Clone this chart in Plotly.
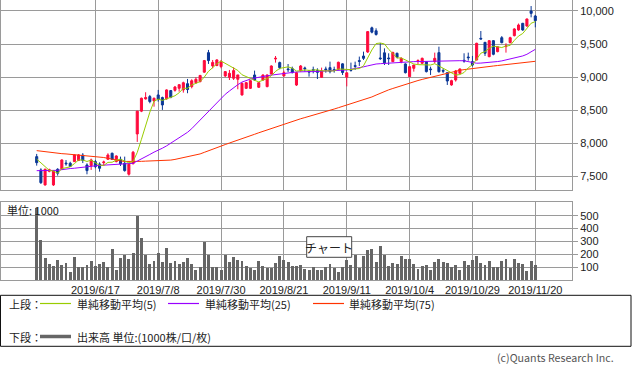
import pandas as pd
import plotly.graph_objects as go

# ---------------- data ----------------
HOLIDAYS = ["2019-07-15", "2019-08-12", "2019-09-16", "2019-09-23",
            "2019-10-14", "2019-10-22", "2019-11-04"]
DATES = [d.strftime("%Y-%m-%d") for d in pd.bdate_range("2019-05-28", "2019-11-20")
         if d.strftime("%Y-%m-%d") not in HOLIDAYS]

TICK_DATES = ["2019-06-17", "2019-07-08", "2019-07-30", "2019-08-21",
              "2019-09-11", "2019-10-04", "2019-10-29", "2019-11-20"]
TICK_TEXT = ["2019/6/17", "2019/7/8", "2019/7/30", "2019/8/21",
             "2019/9/11", "2019/10/4", "2019/10/29", "2019/11/20"]

OPEN = [7797, 7596, 7369, 7575, 7369, 7606, 7611, 7700, 7697, 7722,
        7740, 7820, 7671, 7661, 7722, 7686, 7706, 7757, 7848, 7722,
        7757, 7696, 7531, 7690, 8140, 8485, 8670, 8705, 8640, 8730,
        8690, 8670, 8796, 8800, 8831, 8806, 8900, 8856, 8917, 8932,
        9075, 9370, 9169, 9175, 9159, 9018, 8997, 8982, 8967, 8730,
        8830, 8830, 9032, 8846, 8956, 8856, 9047, 9274, 9219, 9017,
        9123, 9128, 8880, 9098, 9138, 9088, 9113, 9098, 8997, 9123,
        9143, 9113, 9118, 9200, 9000, 9113, 9173, 9249, 9319, 9380,
        9745, 9700, 9289, 9367, 9289, 9234, 9360, 9234, 9199, 9007,
        9133, 9240, 9209, 9234, 9123, 9234, 9370, 9100, 9067, 8881,
        8956, 9057, 9254, 9304, 9234, 9259, 9586, 9526, 9309, 9551,
        9385, 9596, 9461, 9521, 9627, 9713, 9813, 9773, 9999, 9924]
HIGH = [7838, 7621, 7616, 7615, 7590, 7622, 7757, 7745, 7720, 7830,
        7835, 7850, 7696, 7767, 7747, 7711, 7737, 7848, 7858, 7817,
        7797, 7797, 7690, 7883, 8490, 8690, 8771, 8730, 8690, 8806,
        8704, 8815, 8805, 8866, 8892, 8931, 8972, 8967, 8997, 9033,
        9259, 9411, 9259, 9270, 9259, 9090, 9108, 9148, 9033, 8916,
        8926, 8956, 9098, 8926, 9040, 9040, 9178, 9319, 9234, 9098,
        9198, 9158, 9075, 9183, 9158, 9108, 9158, 9133, 9143, 9158,
        9234, 9158, 9234, 9210, 9070, 9219, 9234, 9310, 9385, 9697,
        9763, 9738, 9516, 9435, 9360, 9385, 9370, 9299, 9209, 9158,
        9183, 9269, 9295, 9240, 9158, 9370, 9460, 9133, 9067, 8960,
        9108, 9130, 9360, 9370, 9320, 9520, 9697, 9526, 9560, 9560,
        9470, 9620, 9511, 9610, 9740, 9810, 9820, 9885, 10075, 9940]
LOW = [7661, 7384, 7359, 7560, 7354, 7510, 7600, 7660, 7640, 7715,
       7730, 7700, 7530, 7596, 7621, 7570, 7661, 7747, 7747, 7711,
       7656, 7570, 7510, 7680, 8020, 8470, 8660, 8604, 8553, 8629,
       8504, 8660, 8680, 8780, 8780, 8765, 8756, 8830, 8896, 8920,
       9065, 9199, 9133, 9165, 9133, 9000, 8956, 8956, 8816, 8720,
       8820, 8820, 8946, 8836, 8946, 8846, 9040, 9219, 9118, 9010,
       9077, 9057, 8866, 9083, 9083, 9007, 9057, 8971, 8990, 9067,
       9057, 9067, 9110, 9032, 8860, 9083, 9108, 9168, 9259, 9365,
       9662, 9627, 9259, 9183, 9183, 9234, 9284, 9209, 9055, 9000,
       9083, 9198, 9200, 9070, 9032, 9209, 9067, 9058, 8881, 8870,
       8932, 9050, 9218, 9249, 9160, 9250, 9571, 9320, 9300, 9330,
       9375, 9510, 9370, 9510, 9615, 9700, 9700, 9760, 9904, 9753]
CLOSE = [7706, 7404, 7606, 7600, 7581, 7546, 7747, 7690, 7650, 7823,
         7823, 7740, 7586, 7747, 7646, 7621, 7716, 7822, 7757, 7807,
         7686, 7586, 7682, 7864, 8485, 8680, 8690, 8630, 8680, 8660,
         8579, 8806, 8695, 8850, 8885, 8915, 8812, 8945, 8967, 9025,
         9250, 9250, 9222, 9260, 9234, 9083, 9057, 9098, 9033, 8906,
         8916, 8946, 8956, 8916, 9032, 9032, 9168, 9284, 9143, 9067,
         9113, 9067, 9067, 9168, 9128, 9078, 9103, 9072, 9093, 9113,
         9083, 9103, 9224, 9070, 9065, 9103, 9163, 9239, 9284, 9688,
         9680, 9645, 9279, 9216, 9279, 9372, 9299, 9284, 9067, 9158,
         9183, 9250, 9284, 9083, 9113, 9284, 9082, 9090, 8941, 8946,
         9093, 9123, 9244, 9294, 9183, 9511, 9576, 9360, 9551, 9345,
         9460, 9521, 9471, 9596, 9728, 9788, 9713, 9879, 9964, 9854]
# closes of the four sessions before the window (estimated from the MA5 start)
PRE_CLOSES = [7704, 7906, 7850, 7634]

MA25 = [7585, 7585, 7585, 7585, 7586, 7590, 7600, 7612, 7617, 7622,
        7630, 7640, 7648, 7655, 7660, 7665, 7668, 7671, 7675, 7678,
        7681, 7686, 7690, 7696, 7730, 7760, 7795, 7830, 7865, 7890,
        7925, 7960, 8000, 8040, 8080, 8120, 8165, 8220, 8285, 8350,
        8415, 8480, 8550, 8620, 8690, 8740, 8790, 8840, 8885, 8925,
        8950, 8970, 8985, 9000, 9012, 9020, 9030, 9040, 9048, 9055,
        9062, 9070, 9078, 9083, 9083, 9083, 9083, 9085, 9088, 9090,
        9093, 9097, 9100, 9104, 9108, 9118, 9128, 9140, 9155, 9170,
        9185, 9198, 9203, 9208, 9212, 9218, 9224, 9228, 9232, 9234,
        9234, 9235, 9237, 9240, 9242, 9244, 9246, 9248, 9249, 9249,
        9249, 9248, 9246, 9235, 9215, 9210, 9212, 9215, 9220, 9228,
        9235, 9245, 9258, 9270, 9285, 9300, 9320, 9345, 9380, 9420]
MA75 = [7888, 7880, 7870, 7860, 7850, 7846, 7842, 7838, 7833, 7828,
        7824, 7818, 7810, 7800, 7796, 7791, 7784, 7772, 7757, 7745,
        7733, 7724, 7722, 7722, 7723, 7726, 7729, 7731, 7733, 7734,
        7736, 7737, 7745, 7755, 7767, 7782, 7792, 7806, 7822, 7838,
        7862, 7888, 7910, 7935, 7955, 7980, 8003, 8027, 8048, 8070,
        8090, 8112, 8135, 8158, 8180, 8202, 8225, 8247, 8270, 8293,
        8313, 8333, 8352, 8370, 8388, 8405, 8422, 8440, 8460, 8478,
        8497, 8517, 8537, 8556, 8575, 8596, 8615, 8634, 8652, 8673,
        8700, 8728, 8758, 8785, 8807, 8828, 8850, 8872, 8890, 8910,
        8928, 8948, 8965, 8980, 8995, 9010, 9025, 9045, 9062, 9080,
        9092, 9103, 9113, 9122, 9133, 9140, 9147, 9154, 9161, 9168,
        9175, 9182, 9188, 9195, 9203, 9212, 9220, 9228, 9234, 9239]

VOLUME = [560, 310, 173, 124, 111, 155, 116, 132, 65, 178,
          101, 101, 116, 147, 109, 124, 140, 103, 243, 78,
          171, 194, 165, 209, 499, 326, 194, 124, 147, 209,
          140, 248, 132, 147, 124, 140, 171, 124, 78, 101,
          295, 199, 101, 101, 78, 199, 140, 178, 155, 147,
          109, 96, 78, 147, 109, 96, 96, 132, 186, 155,
          140, 109, 109, 116, 85, 80, 101, 78, 78, 103,
          129, 96, 62, 101, 155, 116, 199, 96, 186, 233,
          240, 142, 264, 194, 109, 134, 124, 186, 163, 163,
          124, 85, 109, 116, 78, 142, 163, 142, 132, 101,
          116, 78, 147, 116, 155, 191, 132, 116, 147, 101,
          101, 147, 163, 93, 163, 132, 124, 70, 147, 116]

PRICE_TICKS = [7500, 8000, 8500, 9000, 9500, 10000]
VOL_TICKS = [100, 200, 300, 400, 500]

# 5-day simple moving average from the closes
_all = PRE_CLOSES + CLOSE
MA5 = [sum(_all[i:i + 5]) / 5 for i in range(len(CLOSE))]

# ---------------- figure ----------------
W, H = 633, 373
ML, MR = 1, 61
PW = W - ML - MR
FONT = "Noto Sans CJK JP, Noto Sans, sans-serif"
NUMFONT = "Liberation Sans, Arial, sans-serif"
GRID = "#9a9a9a"
RED = "#ff0a3c"
BLUE = "#0a3796"


def px(x):
    return (x - ML) / PW


def py(y):
    return 1 - y / H


fig = go.Figure()
fig.add_trace(go.Candlestick(
    x=DATES, open=OPEN, high=HIGH, low=LOW, close=CLOSE,
    increasing=dict(line=dict(color=RED, width=1), fillcolor=RED),
    decreasing=dict(line=dict(color=BLUE, width=1), fillcolor=BLUE),
    whiskerwidth=0, xaxis="x", yaxis="y", hoverinfo="skip"))
fig.add_trace(go.Scatter(x=DATES, y=MA75, mode="lines",
                         line=dict(color="#ff3300", width=1), xaxis="x", yaxis="y"))
fig.add_trace(go.Scatter(x=DATES, y=MA25, mode="lines",
                         line=dict(color="#9900ff", width=1), xaxis="x", yaxis="y"))
fig.add_trace(go.Scatter(x=DATES, y=MA5, mode="lines",
                         line=dict(color="#99cc00", width=1), xaxis="x", yaxis="y"))
fig.add_trace(go.Bar(x=DATES, y=VOLUME, marker=dict(color="#666666", line=dict(width=0)),
                     width=0.7, xaxis="x2", yaxis="y2"))

XR = [-8.52, 127.76]
common_x = dict(type="category", categoryorder="array", categoryarray=DATES,
                range=XR, tickvals=TICK_DATES, ticktext=TICK_TEXT,
                showgrid=True, gridcolor=GRID, gridwidth=1, zeroline=False,
                showline=True, mirror=True, linecolor=GRID, linewidth=1,
                ticks="", fixedrange=True, automargin=False)
common_y = dict(side="right", showgrid=True, gridcolor=GRID, gridwidth=1,
                zeroline=False, showline=True, mirror=True, linecolor=GRID,
                linewidth=1, ticks="outside", ticklen=5, tickcolor=GRID,
                tickfont=dict(family=NUMFONT, size=11, color="#222"),
                fixedrange=True, automargin=False)

fig.update_layout(
    template="none",
    width=W, height=H, margin=dict(l=ML, r=MR, t=0, b=0, pad=0, autoexpand=False),
    paper_bgcolor="white", plot_bgcolor="white",
    showlegend=False, hovermode=False, bargap=0,
    font=dict(family=FONT, size=11, color="#222"),
    xaxis=dict(common_x, domain=[0, 1], anchor="y", showticklabels=False,
               rangeslider=dict(visible=False)),
    xaxis2=dict(common_x, domain=[0, 1], anchor="y2", showticklabels=True,
                tickfont=dict(family=NUMFONT, size=11, color="#222")),
    yaxis=dict(common_y, domain=[py(190.3), 1], range=[7288, 10166],
               tickvals=PRICE_TICKS, tickformat=","),
    yaxis2=dict(common_y, domain=[py(280), py(201.7)], range=[0, 609],
                tickvals=VOL_TICKS),
)

shapes = []
annotations = []

# overlay label box in the volume panel
shapes.append(dict(type="rect", xref="paper", yref="paper",
                   x0=px(306.7), x1=px(351.7), y0=py(257.3), y1=py(236.7),
                   line=dict(color="#444", width=1), fillcolor="white", layer="above"))
annotations.append(dict(text="チャート", xref="paper", yref="paper",
                        x=px(329.2), y=py(247), xanchor="center", yanchor="middle",
                        showarrow=False, font=dict(family=FONT, size=12, color="#222")))
annotations.append(dict(text="単位: 1000", xref="paper", yref="paper",
                        x=px(5), y=py(209.5), xanchor="left", yanchor="middle",
                        showarrow=False, font=dict(family=FONT, size=11, color="#222")))

# legend box
shapes.append(dict(type="rect", xref="paper", yref="paper",
                   x0=px(0.5), x1=px(631), y0=py(346.3), y1=py(295.3),
                   line=dict(color="#111", width=1), fillcolor="rgba(0,0,0,0)"))
row1, row2 = 303.5, 336.5
for x0, x1, col, wd, yy in [(40, 71, "#99cc00", 1.2, row1), (168, 199, "#9900ff", 1.2, row1),
                             (313, 344, "#ff3300", 1.2, row1), (40, 71, "#666666", 3.5, row2)]:
    shapes.append(dict(type="line", xref="paper", yref="paper",
                       x0=px(x0), x1=px(x1), y0=py(yy), y1=py(yy),
                       line=dict(color=col, width=wd)))
for txt, x, yy in [("上段：", 7, row1), ("単純移動平均(5)", 75, row1),
                   ("単純移動平均(25)", 203, row1), ("単純移動平均(75)", 347, row1),
                   ("下段：", 7, row2), ("出来高 単位:(1000株/口/枚)", 75, row2)]:
    annotations.append(dict(text=txt, xref="paper", yref="paper", x=px(x), y=py(yy),
                            xanchor="left", yanchor="middle", showarrow=False,
                            font=dict(family=FONT, size=11, color="#222")))

annotations.append(dict(text="(c)Quants Research Inc.", xref="paper", yref="paper",
                        x=px(616), y=py(357.5), xanchor="right", yanchor="middle",
                        showarrow=False, font=dict(family=FONT, size=10.7, color="#555")))

fig.update_layout(shapes=shapes, annotations=annotations)
fig.write_html("out.html", config={"displayModeBar": False},
               post_script="document.body.style.margin='0px';document.body.style.padding='0px';")
